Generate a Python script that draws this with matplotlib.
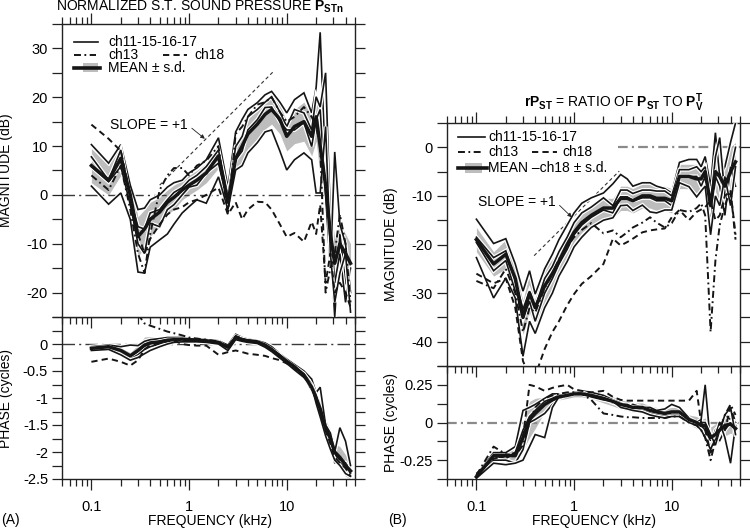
import numpy as np
import matplotlib
matplotlib.use('Agg')
import matplotlib.pyplot as plt
from matplotlib.ticker import LogLocator, FixedLocator, NullFormatter, FuncFormatter, MultipleLocator
from matplotlib.lines import Line2D
from matplotlib.patches import Rectangle
import matplotlib.patheffects as pe

plt.rcParams['font.family'] = ['Liberation Sans', 'DejaVu Sans']
plt.rcParams['mathtext.fontset'] = 'custom'
plt.rcParams['mathtext.rm'] = 'Liberation Sans'
plt.rcParams['mathtext.bf'] = 'Liberation Sans:bold'
plt.rcParams['mathtext.it'] = 'Liberation Sans:italic'
plt.rcParams['axes.unicode_minus'] = False
plt.rcParams['lines.scale_dashes'] = False

# ---------------- data ----------------
freq_khz = [0.1, 0.15, 0.2, 0.25, 0.3, 0.35, 0.4, 0.5, 0.6, 0.7, 0.85, 1.0, 1.2, 1.5, 2.0,
            2.5, 3.0, 3.5, 4.0, 5.0, 6.0, 7.0, 8.5, 10, 12, 15, 18, 20, 22, 25, 28, 31, 35, 40, 45]

# Panel A magnitude (dB)
a_mag_ch11 = [10.3, 6.5, 10.3, 2.0, -3.0, -2.7, -1.0, 0.0, 1.6, 2.5, 3.0, 4.5, 5.5, 7.2, 11.7, 1.6, 12.9, 15.5,
              17.5, 18.9, 20.5, 21.2, 19.0, 16.8, 19.5, 20.9, 16.8, 22.0, 33.3, 5.0, -10.0, -25.0, -8.0, -18.0, -20.0]
a_mag_ch15 = [7.8, 3.0, 9.2, -1.0, -6.5, -7.0, -3.7, -3.0, -1.0, 0.5, 1.5, 3.0, 4.0, 5.8, 9.2, -0.4, 9.9, 12.0,
              16.0, 17.5, 19.0, 20.1, 17.0, 14.0, 17.5, 16.8, 13.3, 20.1, 18.0, 25.0, -5.0, -18.0, -12.0, -22.0, -15.0]
a_mag_ch16 = [5.8, 2.7, 5.8, -2.0, -10.0, -12.0, -5.8, -6.5, -3.0, -2.0, 0.0, 1.6, 2.0, 4.5, 6.5, -1.7, 7.2, 9.0,
              13.3, 15.4, 17.9, 18.0, 15.0, 13.3, 13.3, 14.8, 9.9, 15.4, 17.5, 0.0, -15.0, 8.8, -6.0, -10.0, -20.0]
a_mag_ch17 = [1.8, -1.9, 0.4, -5.0, -15.8, -16.0, -10.7, -9.2, -8.0, -6.0, -3.7, -2.4, -1.0, -1.7, 3.7, -3.0, 5.1, 6.0,
              8.6, 10.7, 12.9, 13.3, 9.0, 5.1, 7.2, 8.6, 7.2, 0.4, 0.4, 14.0, -12.0, -22.0, -16.0, -12.0, -24.0]
a_mag_ch13 = [4.0, 1.0, 6.0, -3.0, -12.0, -16.0, -8.0, 1.0, 4.0, 5.5, 5.5, 4.0, 6.0, 7.0, 10.0, -4.0, 12.5, 14.0,
              16.0, 18.5, 19.0, 20.0, 17.0, 15.0, 16.0, 18.0, 16.0, 14.0, 10.0, -20.0, -15.0, -12.0, -4.0, -10.0, -22.0]
a_mag_ch18 = [14.4, 11.5, 9.0, 0.0, -8.0, -12.0, -9.0, -6.0, -4.0, -3.0, -2.5, -1.5, -1.0, 0.0, 1.5, -4.0, -1.5, -5.0,
              -3.0, -1.4, -1.5, -3.0, -6.0, -8.6, -7.8, -9.6, -5.5, -8.0, -2.0, -18.0, -12.0, -20.0, -18.0, -20.0, -23.0]
a_mag_mean = [6.0, 3.0, 7.5, 0.0, -8.5, -7.0, -5.0, -3.5, -1.5, -0.5, 1.0, 2.0, 3.0, 4.5, 8.0, -1.5, 7.5, 10.0,
              12.5, 14.5, 16.5, 17.5, 15.5, 12.0, 14.0, 15.0, 12.0, 16.0, 10.0, 2.0, -8.0, -14.0, -10.0, -12.0, -14.0]
a_mag_sd = [3.5, 3.0, 3.5, 3.0, 4.0, 4.0, 3.5, 3.0, 2.5, 2.5, 2.0, 2.0, 2.0, 2.0, 2.5, 1.5, 3.0, 3.0,
            3.0, 3.0, 3.0, 3.0, 3.0, 3.0, 3.5, 4.0, 4.0, 5.0, 6.0, 6.0, 6.0, 5.0, 4.0, 4.0, 4.0]

# Panel A phase (cycles)
a_ph_ch11 = [-0.05, -0.02, -0.05, -0.02, -0.03, 0.05, 0.08, 0.1, 0.12, 0.12, 0.12, 0.1, 0.1, 0.08, 0.06, -0.02, 0.18, 0.12,
             0.09, 0.06, 0.02, -0.05, -0.18, -0.28, -0.38, -0.5, -0.65, -0.9, -0.8, -1.5, -1.65, -2.0, -1.55, -1.8, -2.25]
a_ph_ch15 = [-0.08, -0.05, -0.15, -0.25, -0.15, -0.05, 0.0, 0.05, 0.08, 0.08, 0.09, 0.1, 0.08, 0.06, 0.04, -0.08, 0.14, 0.1,
             0.07, 0.04, -0.02, -0.1, -0.2, -0.32, -0.42, -0.55, -0.75, -0.95, -1.25, -1.6, -1.8, -2.05, -2.15, -2.2, -2.4]
a_ph_ch16 = [-0.1, -0.08, -0.18, -0.28, -0.2, -0.1, -0.05, 0.0, 0.03, 0.06, 0.07, 0.06, 0.05, 0.05, 0.02, -0.1, 0.1, 0.07,
             0.05, 0.03, -0.04, -0.12, -0.24, -0.34, -0.45, -0.6, -0.85, -1.05, -1.3, -1.65, -1.9, -2.2, -2.2, -2.3, -2.35]
a_ph_ch17 = [-0.12, -0.1, -0.2, -0.3, -0.25, -0.18, -0.12, -0.05, 0.0, 0.03, 0.04, 0.04, 0.04, 0.03, 0.0, -0.12, 0.08, 0.05,
             0.03, 0.01, -0.06, -0.14, -0.26, -0.36, -0.48, -0.62, -0.78, -1.1, -1.35, -1.7, -1.95, -2.15, -2.25, -2.4, -2.45]
a_ph_ch13 = [np.nan, np.nan, np.nan, np.nan, 0.55, 0.38, 0.34, 0.28, 0.23, 0.2, 0.16, 0.12, 0.1, 0.08, 0.05, -0.06, 0.15, 0.1,
             0.07, 0.05, -0.02, -0.1, -0.22, -0.32, -0.43, -0.58, -0.8, -1.0, -1.25, -1.6, -1.8, -2.0, -2.1, -2.2, -2.4]
a_ph_ch18 = [-0.33, -0.27, -0.33, -0.4, -0.3, -0.1, -0.02, 0.02, 0.05, 0.06, 0.0, -0.02, -0.03, -0.03, -0.2, -0.15, -0.12, -0.15,
             -0.18, -0.2, -0.22, -0.26, -0.3, -0.36, -0.45, -0.6, -0.8, -1.0, -1.25, -1.6, -1.85, -2.1, -2.2, -2.3, -2.45]
a_ph_mean = [-0.08, -0.05, -0.12, -0.22, -0.12, -0.02, 0.02, 0.04, 0.07, 0.08, 0.09, 0.08, 0.07, 0.06, 0.03, -0.06, 0.12, 0.08,
             0.06, 0.04, -0.02, -0.1, -0.22, -0.32, -0.42, -0.58, -0.8, -1.0, -1.2, -1.55, -1.75, -2.0, -2.1, -2.25, -2.35]
a_ph_sd = [0.04, 0.04, 0.05, 0.06, 0.1, 0.15, 0.12, 0.08, 0.05, 0.04, 0.04, 0.04, 0.04, 0.04, 0.04, 0.05, 0.05, 0.04,
           0.04, 0.04, 0.04, 0.04, 0.04, 0.04, 0.05, 0.05, 0.06, 0.1, 0.12, 0.15, 0.15, 0.15, 0.2, 0.2, 0.15]

# Panel B magnitude (dB)
b_mag_ch11 = [-14.8, -19.8, -18.8, -24.0, -29.6, -25.4, -30.2, -25.0, -22.0, -19.0, -16.0, -13.5, -11.5, -10.4, -9.4, -7.5, -5.6, -6.5,
              -8.0, -7.3, -7.3, -8.0, -8.5, -9.4, -3.1, -2.5, -2.5, -4.0, -1.9, -8.0, 3.0, -6.0, -4.0, 1.0, 5.0]
b_mag_ch15 = [-18.5, -22.7, -21.3, -27.5, -33.3, -29.6, -33.0, -27.0, -24.5, -21.5, -18.5, -15.5, -13.5, -12.3, -10.4, -12.0, -8.8, -8.8,
              -9.5, -8.8, -8.8, -9.0, -9.0, -10.0, -4.6, -4.6, -4.0, -5.0, -4.0, -12.0, -2.0, 2.0, -10.0, -5.0, 0.0]
b_mag_ch16 = [-19.6, -25.4, -23.3, -29.6, -35.2, -31.7, -35.8, -30.0, -27.0, -24.0, -21.0, -18.0, -16.0, -14.4, -12.9, -13.5, -10.2, -10.2,
              -11.0, -10.4, -10.4, -11.0, -11.0, -12.0, -6.0, -6.0, -6.0, -8.0, -6.0, -16.0, -6.0, -8.0, -14.0, -4.0, -8.0]
b_mag_ch17 = [-22.7, -31.0, -26.9, -31.0, -43.0, -35.8, -38.3, -33.0, -30.0, -26.5, -23.5, -20.5, -18.5, -16.5, -15.0, -14.5, -12.0, -11.9,
              -13.0, -11.9, -13.3, -13.5, -12.9, -12.9, -7.3, -8.1, -10.2, -9.0, -8.0, -18.0, -10.0, -12.0, -6.0, -12.0, -4.0]
b_mag_ch13 = [-27.5, -29.0, -25.0, -30.0, -38.0, -33.0, -34.0, -29.0, -26.0, -23.0, -20.5, -18.5, -17.0, -15.6, -17.7, -17.1, -18.5, -17.5,
              -16.5, -15.5, -14.4, -15.5, -16.5, -15.6, -12.9, -13.3, -12.5, -11.5, -14.0, -38.0, -23.3, -16.0, -12.0, -8.8, -19.0]
b_mag_ch18 = [-26.0, -28.0, -27.0, -33.0, -44.0, -47.0, -47.0, -41.5, -38.0, -35.8, -32.5, -30.2, -28.1, -26.5, -24.0, -18.8, -20.2, -19.5,
              -18.8, -17.5, -17.1, -16.9, -16.7, -14.4, -12.9, -15.0, -13.3, -12.8, -12.3, -11.0, -15.0, -14.0, -10.0, -9.0, -18.0]
b_mag_mean = [-19.0, -24.0, -22.0, -27.0, -35.0, -30.0, -33.0, -28.5, -26.0, -23.5, -20.0, -17.5, -15.5, -14.0, -12.5, -12.5, -10.5, -10.5,
              -11.0, -10.0, -10.0, -10.5, -10.5, -11.0, -6.0, -6.0, -6.5, -6.5, -5.0, -12.0, -5.0, -6.0, -8.0, -5.0, -3.0]
b_mag_sd = [2.5, 2.5, 3.0, 3.0, 3.5, 4.0, 4.0, 3.5, 3.0, 2.5, 2.5, 2.0, 2.0, 2.0, 2.0, 2.0, 2.5, 2.5,
            2.5, 2.5, 2.5, 2.5, 2.5, 2.5, 2.5, 2.5, 3.0, 3.0, 3.0, 4.0, 5.0, 5.0, 5.0, 5.0, 4.0]

# Panel B phase (cycles)
b_ph_ch11 = [-0.35, -0.2, -0.2, -0.16, 0.08, 0.1, 0.12, 0.16, 0.19, 0.19, 0.19, 0.2, 0.21, 0.2, 0.18, 0.15, 0.13, 0.11,
             0.12, 0.1, 0.1, 0.08, 0.09, 0.12, 0.1, 0.03, 0.0, 0.02, 0.25, -0.15, -0.05, -0.02, 0.05, 0.02, 0.0]
b_ph_ch15 = [-0.36, -0.22, -0.24, -0.2, -0.05, 0.04, 0.08, 0.14, 0.16, 0.18, 0.19, 0.2, 0.2, 0.18, 0.16, 0.14, 0.12, 0.12,
             0.1, 0.1, 0.07, 0.06, 0.05, 0.06, 0.06, 0.0, -0.02, -0.05, -0.1, -0.18, -0.1, -0.12, -0.05, 0.0, -0.05]
b_ph_ch16 = [-0.37, -0.25, -0.25, -0.27, -0.18, 0.0, 0.02, 0.06, 0.12, 0.16, 0.18, 0.19, 0.19, 0.17, 0.16, 0.13, 0.12, 0.1,
             0.09, 0.08, 0.06, 0.05, 0.04, 0.05, 0.05, 0.02, 0.0, -0.02, -0.05, -0.12, -0.08, 0.0, -0.1, -0.27, -0.02]
b_ph_ch17 = [-0.37, -0.27, -0.28, -0.27, -0.25, -0.16, -0.08, -0.1, 0.1, 0.17, 0.18, 0.19, 0.19, 0.17, 0.15, 0.14, 0.1, 0.09,
             0.08, 0.07, 0.05, 0.04, 0.03, 0.04, 0.04, 0.0, -0.02, 0.0, 0.0, -0.08, -0.15, -0.05, 0.05, 0.1, -0.08]
b_ph_ch13 = [-0.35, -0.16, -0.21, -0.22, -0.15, 0.0, 0.1, 0.16, 0.18, 0.19, 0.2, 0.2, 0.19, 0.15, 0.06, 0.05, 0.04, 0.035,
             0.035, 0.03, 0.03, 0.03, 0.03, 0.04, 0.04, 0.0, -0.02, -0.05, -0.1, -0.25, -0.12, -0.05, 0.05, 0.12, 0.05]
b_ph_ch18 = [-0.34, -0.24, -0.22, -0.2, -0.1, 0.25, 0.24, 0.21, 0.23, 0.24, 0.25, 0.22, 0.21, 0.2, 0.21, 0.17, 0.15, 0.145,
             0.145, 0.145, 0.145, 0.145, 0.145, 0.145, 0.145, 0.145, 0.21, 0.0, -0.05, -0.2, -0.1, 0.0, -0.05, 0.1, 0.0]
b_ph_mean = [-0.36, -0.22, -0.22, -0.22, -0.1, 0.02, 0.06, 0.12, 0.15, 0.17, 0.18, 0.19, 0.19, 0.18, 0.16, 0.14, 0.12, 0.11,
             0.1, 0.1, 0.08, 0.07, 0.06, 0.07, 0.07, 0.02, 0.0, -0.02, -0.02, -0.1, -0.08, -0.05, -0.02, -0.01, -0.04]
b_ph_sd = [0.02, 0.03, 0.03, 0.04, 0.08, 0.12, 0.1, 0.05, 0.03, 0.02, 0.02, 0.02, 0.02, 0.02, 0.03, 0.03, 0.03, 0.03,
           0.03, 0.03, 0.03, 0.03, 0.03, 0.03, 0.03, 0.03, 0.04, 0.04, 0.05, 0.07, 0.07, 0.07, 0.07, 0.06, 0.06]

# slope = +1 reference lines
a_slope_f = [0.5, 7.5]
a_slope_db = [2.0, 25.5]
b_slope_f = [0.39, 2.9]
b_slope_db = [-22.3, -4.9]

x_tick_vals = [0.1, 1, 10]

# ---------------- figure ----------------
W, H = 750, 528
fig = plt.figure(figsize=(W / 100, H / 100), dpi=100)

def fx(px):
    return px / W

def fy(py):
    return 1 - py / H

def rect(x0, x1, y0, y1):
    return [fx(x0), fy(y1), (x1 - x0) / W, (y1 - y0) / H]

INK = '#151515'
GRAY = '#bdbdbd'
halo = [pe.Stroke(linewidth=2.9, foreground='white'), pe.Normal()]
DASHDOT = (5, 2.5, 1.3, 2.5)
DASH = (4.5, 3)

ax_a_ph = fig.add_axes(rect(62, 355, 317, 479))
ax_b_ph = fig.add_axes(rect(447, 740, 366, 479))
ax_a_mag = fig.add_axes(rect(62, 355, 24, 317))
ax_b_mag = fig.add_axes(rect(447, 740, 123, 366))

fmt = FuncFormatter(lambda v, p: f'{v:g}')

def style(ax, majors, minor_step, ylim, bottom_labels, top_ticks=True):
    ax.set_xscale('log')
    ax.set_xlim(0.05, 50)
    ax.set_ylim(*ylim)
    ax.xaxis.set_major_locator(FixedLocator(x_tick_vals))
    ax.xaxis.set_major_formatter(fmt)
    ax.xaxis.set_minor_locator(LogLocator(base=10, subs=np.arange(2, 10), numticks=30))
    ax.xaxis.set_minor_formatter(NullFormatter())
    ax.yaxis.set_major_locator(FixedLocator(majors))
    ax.yaxis.set_major_formatter(fmt)
    ax.yaxis.set_minor_locator(MultipleLocator(minor_step))
    ax.tick_params(which='both', direction='out', top=top_ticks, right=True, labelsize=10.5,
                   width=0.9, color='#222', labelbottom=bottom_labels)
    ax.tick_params(axis='x', which='major', length=8, pad=7)
    ax.tick_params(axis='x', which='minor', length=5)
    ax.tick_params(axis='y', which='both', length=7, pad=3)
    for s in ax.spines.values():
        s.set_linewidth(1.0)
        s.set_color('#222')

style(ax_a_mag, [-20, -10, 0, 10, 20, 30], 5, (-25, 35), False)
style(ax_a_ph, [-2.5, -2, -1.5, -1, -0.5, 0], 0.25, (-2.5, 0.5), True, top_ticks=False)
style(ax_b_mag, [-40, -30, -20, -10, 0], 5, (-45, 5), False)
style(ax_b_ph, [-0.25, 0, 0.25], 0.125, (-0.375, 0.375), True, top_ticks=False)

def draw(ax, chs, c13, c18, mean, sd):
    m = np.array(mean, dtype=float)
    s = np.array(sd, dtype=float)
    ax.fill_between(freq_khz, m - s, m + s, color=GRAY, lw=0, zorder=1)
    for c in chs:
        ax.plot(freq_khz, c, color=INK, lw=1.2, zorder=3, path_effects=halo, solid_joinstyle='miter')
    ax.plot(freq_khz, c13, color=INK, lw=1.4, dashes=DASHDOT, zorder=4)
    ax.plot(freq_khz, c18, color=INK, lw=1.4, dashes=DASH, zorder=4)
    ax.plot(freq_khz, m, color=INK, lw=2.5, zorder=5)

# zero reference lines
ax_a_mag.axhline(0, color='#3a3a3a', lw=1.0, dashes=(9, 3, 1.5, 3), zorder=2)
ax_a_ph.axhline(0, color='#3a3a3a', lw=1.0, dashes=(9, 3, 1.5, 3), zorder=2)
ax_b_mag.hlines(0, 2.8, 50, color='#8a8a8a', lw=1.6, linestyles=[(0, (7, 3, 1.5, 3))], zorder=2)
ax_b_ph.axhline(0, color='#8a8a8a', lw=1.6, dashes=(7, 3, 1.5, 3), zorder=2)

draw(ax_a_mag, [a_mag_ch11, a_mag_ch15, a_mag_ch16, a_mag_ch17], a_mag_ch13, a_mag_ch18, a_mag_mean, a_mag_sd)
draw(ax_a_ph, [a_ph_ch11, a_ph_ch15, a_ph_ch16, a_ph_ch17], a_ph_ch13, a_ph_ch18, a_ph_mean, a_ph_sd)
draw(ax_b_mag, [b_mag_ch11, b_mag_ch15, b_mag_ch16, b_mag_ch17], b_mag_ch13, b_mag_ch18, b_mag_mean, b_mag_sd)
draw(ax_b_ph, [b_ph_ch11, b_ph_ch15, b_ph_ch16, b_ph_ch17], b_ph_ch13, b_ph_ch18, b_ph_mean, b_ph_sd)

# slope lines and labels
ax_a_mag.plot(a_slope_f, a_slope_db, color='#333', lw=0.8, dashes=(2.5, 2), zorder=2)
ax_b_mag.plot(b_slope_f, b_slope_db, color='#333', lw=0.8, dashes=(2.5, 2), zorder=2)
arrow = dict(arrowstyle='-|>', lw=0.6, color='#222', shrinkA=1, shrinkB=0, relpos=(1, 0.5), mutation_scale=6)
ax_a_mag.annotate('SLOPE = +1', xy=(1.45, 11.5), xytext=(0.39, 14.3), ha='center', va='center',
                  fontsize=10, arrowprops=arrow, zorder=6)
ax_b_mag.annotate('SLOPE = +1', xy=(0.95, -14.4), xytext=(0.26, -11.2), ha='center', va='center',
                  fontsize=10, arrowprops=arrow, zorder=6)

# axis labels
for ax, lab in [(ax_a_mag, 'MAGNITUDE (dB)'), (ax_a_ph, 'PHASE (cycles)'),
                (ax_b_mag, 'MAGNITUDE (dB)'), (ax_b_ph, 'PHASE (cycles)')]:
    ax.set_ylabel(lab, fontsize=10, va='center')
    ax.yaxis.set_label_coords(-0.19, 0.5)

fig.text(fx(210), fy(521), 'FREQUENCY (kHz)', ha='center', va='center', fontsize=10)
fig.text(fx(594), fy(521), 'FREQUENCY (kHz)', ha='center', va='center', fontsize=10)
fig.text(fx(1), fy(520), '(A)', ha='left', va='center', fontsize=10)
fig.text(fx(388), fy(520), '(B)', ha='left', va='center', fontsize=10)

fig.text(fx(200), fy(10.5), r'NORMALIZED S.T. SOUND PRESSURE $\mathbf{P}_{\mathbf{STn}}$',
         ha='center', va='baseline', fontsize=10)
fig.text(fx(614), fy(107), r'$\mathbf{rP}_{\mathbf{ST}}$ = RATIO OF $\mathbf{P}_{\mathbf{ST}}$ TO $\mathbf{P}_{\mathbf{V}}^{\mathbf{T}}$',
         ha='center', va='baseline', fontsize=10)

# legends (drawn in figure pixel coordinates)
def legend(x0, x1, xt, y_rows, x2a, x2b, xt2, mean_label, rect_x):
    r1, r2, r3 = y_rows
    fig.add_artist(Line2D([fx(x0), fx(x1)], [fy(r1)] * 2, color=INK, lw=1.2, transform=fig.transFigure))
    fig.text(fx(xt), fy(r1), 'ch11-15-16-17', ha='left', va='center', fontsize=10)
    fig.add_artist(Line2D([fx(x0), fx(x1 - 2)], [fy(r2)] * 2, color=INK, lw=1.4, dashes=DASHDOT,
                          transform=fig.transFigure))
    fig.text(fx(xt), fy(r2), 'ch13', ha='left', va='center', fontsize=10)
    fig.add_artist(Line2D([fx(x2a), fx(x2b)], [fy(r2)] * 2, color=INK, lw=1.4, dashes=DASH,
                          transform=fig.transFigure))
    fig.text(fx(xt2), fy(r2), 'ch18', ha='left', va='center', fontsize=10)
    fig.add_artist(Rectangle((fx(rect_x[0]), fy(r3 + 4.5)), (rect_x[1] - rect_x[0]) / W, 9 / H, color=GRAY, lw=0,
                             transform=fig.transFigure))
    fig.add_artist(Line2D([fx(x0), fx(x1 + 2)], [fy(r3)] * 2, color=INK, lw=2.6, transform=fig.transFigure))
    fig.text(fx(xt), fy(r3), mean_label, ha='left', va='center', fontsize=10)

legend(74, 98, 108, (41.5, 55, 67.5), 163, 187, 194, 'MEAN ± s.d.', (83, 98))
legend(458, 485, 488, (137, 152, 168), 532, 557, 562, 'MEAN –ch18 ± s.d.', (465, 482))

fig.savefig('out.png', dpi=100)
